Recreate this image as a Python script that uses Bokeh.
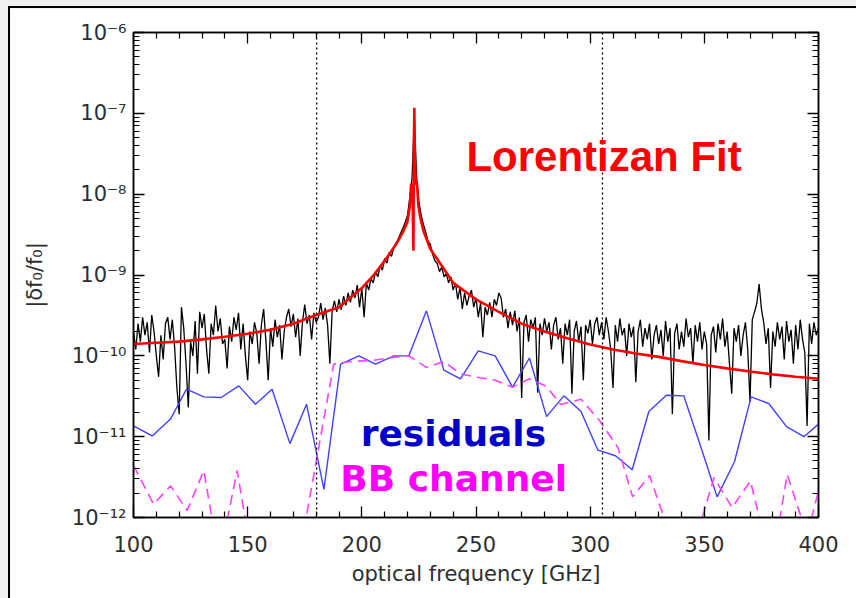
from bokeh.plotting import figure
from bokeh.models import (FixedTicker, LinearAxis, LogAxis, Span, Label,
                          CustomJSTickFormatter)
from bokeh.layouts import column
from bokeh.embed import file_html
from bokeh.resources import INLINE

# all amplitudes below are given in units of 1e-10
UNIT = 1e-10

# measured |δf0/f0| spectrum, one sample per GHz from 100 to 400 GHz
meas_freq = list(range(100, 401))
meas_amp = [
    2.0, 1.2, 2.5, 1.5, 3.0, 1.8, 2.6, 1.1, 3.2, 2.0,
    1.0, 0.55, 1.8, 0.9, 2.5, 3.0, 1.6, 2.8, 1.3, 0.4,
    0.19, 4.0, 2.2, 0.8, 0.23, 1.5, 1.0, 2.7, 0.6, 3.5,
    2.2, 3.3, 1.2, 0.6, 2.5, 1.8, 4.2, 2.0, 2.9, 1.4,
    1.6, 0.7, 2.3, 1.5, 3.0, 2.1, 3.4, 1.2, 2.5, 1.0,
    0.5, 2.0, 1.4, 2.6, 1.9, 0.8, 2.4, 3.8, 1.5, 0.5,
    2.2, 1.3, 2.8, 1.7, 2.4, 0.9, 2.0, 3.0, 3.8, 2.3,
    3.3, 1.7, 2.9, 1.0, 2.6, 4.3, 2.5, 3.2, 1.6, 3.4,
    2.6, 3.0, 4.5, 2.8, 3.9, 2.4, 0.8, 3.6, 4.8, 3.5,
    5.0, 3.7, 5.5, 4.2, 6.0, 4.6, 6.5, 5.2, 7.5, 4.0,
    6.8, 3.0, 8.0, 6.5, 9.0, 8.0, 11.0, 9.5, 13.0, 11.5,
    16.0, 14.0, 19.0, 17.0, 22.0, 25.0, 28.0, 33.0, 38.0, 45.0,
    55.0, 90.0, 160.0, 900.0, 160.0, 80.0, 55.0, 42.0, 34.0, 26.0,
    24.0, 18.0, 15.0, 14.0, 11.0, 12.5, 9.5, 10.5, 8.0, 9.5,
    6.5, 8.0, 5.0, 7.0, 3.8, 6.0, 4.2, 5.5, 6.5, 4.0,
    5.2, 3.0, 4.5, 1.7, 4.0, 3.2, 4.6, 3.0, 5.0, 4.2,
    6.0, 5.2, 3.0, 3.8, 2.2, 3.5, 2.4, 3.6, 2.0, 3.0,
    0.3, 2.6, 3.2, 1.5, 2.8, 2.2, 3.0, 0.35, 2.5, 1.8,
    2.9, 2.0, 2.6, 1.2, 2.4, 3.0, 1.6, 2.2, 0.8, 2.5,
    1.8, 2.8, 0.34, 2.0, 2.7, 1.5, 2.3, 0.5, 2.4, 1.9,
    2.8, 1.4, 2.5, 3.0, 1.8, 2.6, 1.6, 3.0, 2.0, 1.2,
    0.4, 2.4, 1.5, 2.9, 1.8, 2.2, 1.0, 2.5, 1.7, 2.3,
    0.47, 2.0, 2.8, 1.3, 2.2, 1.6, 2.5, 0.9, 1.8, 2.4,
    1.4, 2.1, 1.0, 2.7, 1.5, 2.2, 0.19, 1.9, 2.5, 1.2,
    2.0, 1.3, 2.9, 1.7, 2.2, 0.8, 2.4, 1.5, 2.6, 1.2,
    2.0, 1.4, 0.09, 1.8, 2.3, 1.1, 2.5, 1.6, 2.9, 1.3,
    2.0, 0.8, 0.34, 2.2, 1.5, 2.4, 1.0, 1.8, 2.6, 1.2,
    0.27, 2.8, 3.5, 4.5, 7.7, 3.8, 2.6, 1.4, 2.2, 0.4,
    2.0, 1.3, 2.6, 1.6, 2.3, 0.9, 2.7, 1.5, 2.1, 0.8,
    2.4, 1.2, 2.8, 1.6, 1.1, 0.136, 2.5, 1.4, 2.6, 1.8,
    2.2,
]

# Lorentzian fit
fit_freq = [100, 110, 120, 130, 140, 150, 160, 170, 180, 190, 200, 205, 210, 215, 218,
            219.9, 221.0, 221.6, 222.2, 222.6, 222.8, 223.0, 223.2, 223.6, 224.2, 224.8,
            225.7, 227, 230, 235, 240, 250, 260, 270, 280, 290, 300, 310, 320, 330, 340,
            350, 360, 370, 380, 390, 400]
fit_amp = [1.40, 1.45, 1.50, 1.60, 1.72, 1.88, 2.1, 2.5, 3.2, 4.0, 6.9, 9.8, 15.0, 24.0, 34.0,
           45.0, 70.0, 135.0, 100.0, 20.0, 400.0, 1170.0, 300.0, 135.0, 130.0, 70.0,
           50.0, 35.0, 21.0, 13.0, 8.0, 5.0, 3.5, 2.5, 2.0, 1.65, 1.38, 1.2, 1.07, 0.97, 0.86,
           0.77, 0.70, 0.64, 0.59, 0.55, 0.52]

# fit residuals
res_freq = [100.0, 108.2, 116.2, 123.2, 130.8, 138.4, 146.1, 153.4, 160.7, 168.5, 175.8,
            183.4, 190.7, 198.7, 206.0, 214.0, 220.6, 228.3, 235.9, 243.2, 251.0, 258.4,
            266.0, 273.4, 280.9, 288.5, 296.0, 303.4, 311.1, 318.4, 325.7, 333.4, 341.0,
            348.3, 355.6, 363.2, 370.5, 378.2, 386.0, 393.6, 400.0]
res_amp = [0.136, 0.102, 0.165, 0.387, 0.311, 0.305, 0.425, 0.252, 0.387, 0.082, 0.252,
           0.0223, 0.79, 1.0, 0.79, 1.0, 1.0, 3.6, 0.665, 0.52, 1.15, 1.0,
           0.41, 0.94, 0.177, 0.32, 0.205, 0.068, 0.058, 0.039, 0.205, 0.325, 0.32,
           0.077, 0.018, 0.049, 0.31, 0.257, 0.133, 0.10, 0.143]

# broadband reference channel
bb_freq = [100.0, 108.8, 116.2, 123.5, 130.8, 137.5, 145.4, 152.0, 165.0, 175.3, 187.7,
           195.0, 205.0, 213.0, 220.6, 228.3, 235.9, 243.2, 251.0, 258.4, 266.0, 273.4,
           280.9, 287.0, 296.0, 304.2, 312.2, 318.6, 326.0, 331.8, 338.0, 345.0, 354.2,
           362.2, 370.2, 376.0, 381.8, 386.3, 395.0, 400.0]
bb_amp = [0.044, 0.0146, 0.0246, 0.0122, 0.038, 0.003, 0.038, 0.003, 0.002, 0.009, 0.79,
          0.85, 0.88, 0.95, 1.0, 0.72, 0.85, 0.6, 0.54, 0.5, 0.41, 0.52,
          0.42, 0.25, 0.29, 0.157, 0.073, 0.018, 0.033, 0.011, 0.003, 0.004, 0.031,
          0.0133, 0.0283, 0.006, 0.006, 0.034, 0.006, 0.0214]

# band edges marked with dotted lines
band_edges = [180.2, 305.4]

X_MIN, X_MAX = 100, 400
Y_MIN, Y_MAX = 1e-12, 1e-6
x_ticks = [100, 150, 200, 250, 300, 350, 400]
x_minor = [f for f in range(100, 401, 10) if f % 50]
y_ticks = [10.0 ** e for e in range(-12, -5)]
y_minor = [k * 10.0 ** e for e in range(-12, -6) for k in range(2, 10)]


def scaled(vals):
    return [v * UNIT for v in vals]


FONT = "DejaVu Sans"
TXT = "#2e2e2e"

p = figure(frame_width=685, frame_height=485,
           x_range=(X_MIN, X_MAX), y_range=(Y_MIN, Y_MAX), y_axis_type="log",
           output_backend="svg", toolbar_location=None,
           min_border_left=123, min_border_right=38, min_border_top=24, min_border_bottom=81,
           background_fill_color="white", border_fill_color="white")
p.grid.visible = False
p.outline_line_color = "black"
p.outline_line_width = 1.5

blank = CustomJSTickFormatter(code="return '';")
sup_fmt = CustomJSTickFormatter(code="""
const sup = {'-': '\u207b', '0': '\u2070', '1': '\u00b9', '2': '\u00b2', '3': '\u00b3',
             '4': '\u2074', '5': '\u2075', '6': '\u2076', '7': '\u2077', '8': '\u2078', '9': '\u2079'};
const e = Math.round(Math.log10(tick));
return '10' + String(e).split('').map(c => sup[c]).join('');
""")

# box axes: inward ticks on all four sides, no labels, default text settings
p.add_layout(LinearAxis(), "above")
p.add_layout(LogAxis(), "right")
box_axes = [p.below[0], p.left[0], p.above[0], p.right[0]]
for ax in box_axes:
    if ax in (p.below[0], p.above[0]):
        ax.ticker = FixedTicker(ticks=x_ticks, minor_ticks=x_minor)
    else:
        ax.ticker = FixedTicker(ticks=y_ticks, minor_ticks=y_minor)
    ax.formatter = blank
    ax.major_label_standoff = 0
    ax.major_tick_in = 11
    ax.major_tick_out = 0
    ax.minor_tick_in = 6
    ax.minor_tick_out = 0
    ax.major_tick_line_width = 1.3
    ax.minor_tick_line_width = 1.2
    ax.axis_line_color = "black"
    ax.axis_line_width = 1.5

# label axes stacked outside the box axes: text only
x_lab = LinearAxis(ticker=FixedTicker(ticks=x_ticks, minor_ticks=[]),
                   axis_label="optical frequency [GHz]")
y_lab = LogAxis(ticker=FixedTicker(ticks=y_ticks, minor_ticks=[]), formatter=sup_fmt,
                axis_label="|\u03b4f\u2080/f\u2080|")
p.add_layout(x_lab, "below")
p.add_layout(y_lab, "left")
for ax in (x_lab, y_lab):
    ax.axis_line_color = None
    ax.major_tick_line_color = None
    ax.minor_tick_line_color = None
    ax.major_tick_in = 0
    ax.major_tick_out = 0
    ax.minor_tick_in = 0
    ax.minor_tick_out = 0
    ax.major_label_text_font = FONT
    ax.major_label_text_font_size = "21px"
    ax.major_label_text_color = TXT
    ax.axis_label_text_font = FONT
    ax.axis_label_text_font_size = "21px"
    ax.axis_label_text_font_style = "normal"
    ax.axis_label_text_color = TXT
x_lab.major_label_standoff = 18
x_lab.axis_label_standoff = 7
y_lab.major_label_standoff = 7
y_lab.axis_label_standoff = 22

for f in band_edges:
    p.add_layout(Span(location=f, dimension="height", line_color="black",
                      line_dash="2 3", line_width=1.3))

p.line(meas_freq, scaled(meas_amp), line_color="black", line_width=1.3)
p.line(fit_freq, scaled(fit_amp), line_color="#ff0000", line_width=2.6)
p.line(res_freq, scaled(res_amp), line_color="#4040ff", line_width=1.4)
p.line(bb_freq, scaled(bb_amp), line_color="#ff40ff", line_width=1.6, line_dash="10 6")

p.add_layout(Label(x=245.8, y=2.9e-8, text="Lorentizan Fit", text_color="#ff0000",
                   text_font="Liberation Sans", text_font_size="42px",
                   text_font_style="bold", text_baseline="alphabetic"))
p.add_layout(Label(x=199.5, y=1.11e-11, text="residuals", text_color="#0000c8",
                   text_font=FONT, text_font_size="36px",
                   text_font_style="bold", text_baseline="alphabetic"))
p.add_layout(Label(x=190.6, y=3.0e-12, text="BB channel", text_color="#ff00ff",
                   text_font=FONT, text_font_size="36px",
                   text_font_style="bold", text_baseline="alphabetic"))

inner = column(p, styles={"border-top": "2px solid #000", "border-left": "2px solid #000"})
page = column(inner, styles={"background-color": "#f0f0f0", "padding-top": "6px",
                             "padding-left": "8px"})

open("out.html", "w").write(file_html(page, INLINE))
